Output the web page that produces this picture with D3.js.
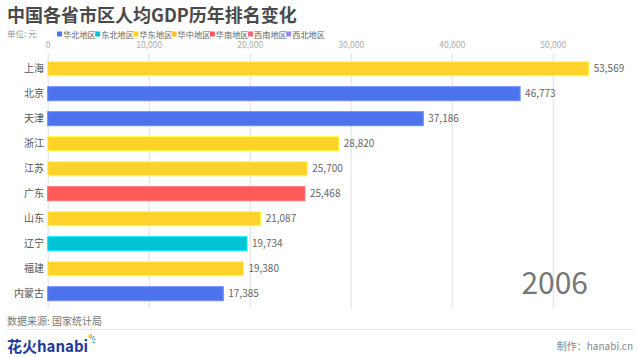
<!DOCTYPE html>
<html><head><meta charset="utf-8">
<script src="https://cdn.jsdelivr.net/npm/d3@7"></script>
<style>
html,body{margin:0;padding:0;background:#fff;}
svg{display:block;font-family:"Noto Sans CJK SC","Noto Sans",sans-serif;}
</style></head>
<body><svg id="c" width="640" height="357"></svg>
<script>
const provinces = ["上海","北京","天津","浙江","江苏","广东","山东","辽宁","福建","内蒙古"];
const values = [53569,46773,37186,28820,25700,25468,21087,19734,19380,17385];
const provinceRegion = ["华东地区","华北地区","华北地区","华东地区","华东地区","华南地区","华东地区","东北地区","华东地区","华北地区"];
const regions = ["华北地区","东北地区","华东地区","华中地区","华南地区","西南地区","西北地区"];
const regionColors = ["#4e72ee","#00c4d4","#ffd12b","#ffbe2e","#ff5a5a","#f2687f","#9b86f3"];
const xTicks = [0,10000,20000,30000,40000,50000];
const year = "2006";

const svg = d3.select("#c");
const color = d3.scaleOrdinal().domain(regions).range(regionColors);
const x = d3.scaleLinear().domain([0,10000]).range([47.7,148.7]);
const y = d3.scaleBand().domain(provinces).range([56.2,306.2]).paddingInner(0.44).paddingOuter(0.22);

// title
svg.append("text").attr("x",7).attr("y",21.5).attr("font-size",18).attr("font-weight","bold")
  .attr("fill","#4a4a4a").text("中国各省市区人均GDP历年排名变化");
svg.append("text").attr("x",7).attr("y",37).attr("font-size",8.5).attr("fill","#999").text("单位: 元");

// legend
const lg = svg.append("g");
regions.forEach((r,i)=>{
  const gx = 57 + i*38.2;
  lg.append("rect").attr("x",gx).attr("y",31.5).attr("width",5).attr("height",5).attr("fill",color(r));
  lg.append("text").attr("x",gx+6).attr("y",37.5).attr("font-size",8.2).attr("fill","#666").text(r);
});

// axis with gridlines
const ax = svg.append("g").attr("transform","translate(0,53)")
  .call(d3.axisTop(x).tickValues(xTicks).tickSizeInner(-255).tickSizeOuter(0).tickPadding(5).tickFormat(d3.format(",")));
ax.select(".domain").remove();
ax.selectAll(".tick line").attr("stroke","#e0e0e0").attr("stroke-width",1);
ax.selectAll(".tick text").attr("fill","#aaa").attr("font-size",8.5)
  .attr("font-family","'Noto Sans CJK SC','Noto Sans',sans-serif");

// year
svg.append("text").attr("x",588).attr("y",294).attr("text-anchor","end").attr("font-size",30)
  .attr("fill","#777").text(year);

// bars
const rows = provinces.map((p,i)=>({p, v: values[i], r: provinceRegion[i]}));
const g = svg.append("g");
g.selectAll("rect.bar").data(rows).join("rect").attr("class","bar")
  .attr("x",x(0)).attr("y",d=>y(d.p)).attr("width",d=>x(d.v)-x(0)).attr("height",y.bandwidth())
  .attr("fill",d=>color(d.r)).attr("stroke",d=>d3.color(color(d.r)).brighter(0.6)).attr("stroke-width",1);
g.selectAll("text.cat").data(rows).join("text").attr("class","cat")
  .attr("x",44).attr("y",d=>y(d.p)+y.bandwidth()/2).attr("dy","0.35em").attr("text-anchor","end")
  .attr("font-size",10).attr("fill","#555").text(d=>d.p);
g.selectAll("text.val").data(rows).join("text").attr("class","val")
  .attr("x",d=>x(d.v)+5).attr("y",d=>y(d.p)+y.bandwidth()/2).attr("dy","0.35em")
  .attr("font-size",10).attr("fill","#666").text(d=>d3.format(",")(d.v));

// footer
svg.append("text").attr("x",7).attr("y",325).attr("font-size",10).attr("fill","#777").text("数据来源: 国家统计局");
svg.append("line").attr("x1",7).attr("x2",633).attr("y1",329.5).attr("y2",329.5).attr("stroke","#e6e6e6");
svg.append("text").attr("x",7).attr("y",352).attr("font-size",15).attr("font-weight","bold").attr("fill","#1d3a9a").text("花火hanabi");
const sp = svg.append("g").attr("transform","translate(91,341)");
[["#ffcc00",-3,-6],["#ff6a3a",0,-7],["#3ab0ff",3,-5],["#9b86f3",5,-2],["#00c4d4",4,2]].forEach(([c,dx,dy])=>{
  sp.append("line").attr("x1",dx*0.4).attr("y1",dy*0.4).attr("x2",dx).attr("y2",dy).attr("stroke",c).attr("stroke-width",1.2);
});
svg.append("text").attr("x",633).attr("y",350).attr("text-anchor","end").attr("font-size",10).attr("fill","#888").text("制作：hanabi.cn");
</script></body></html>
